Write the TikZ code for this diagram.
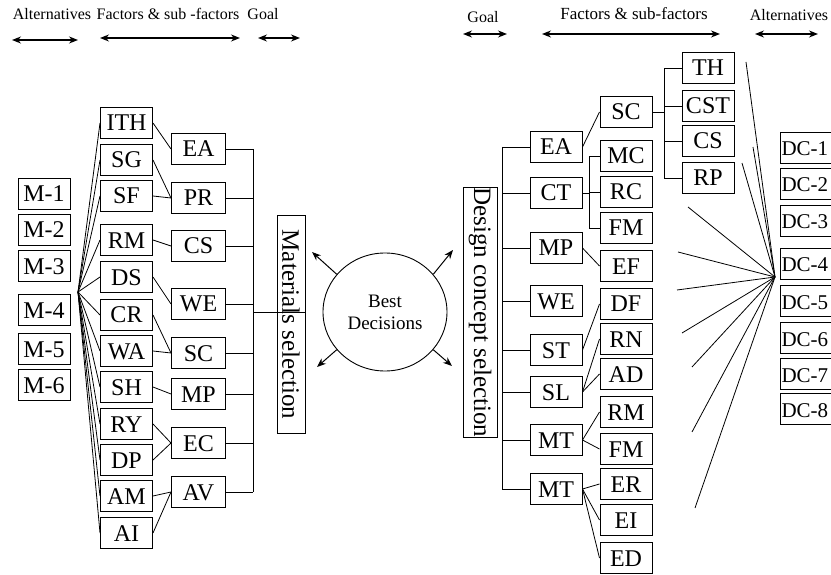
\documentclass[tikz,border=0pt]{standalone}
\usepackage{fontspec}
\setmainfont{Liberation Serif}
\usetikzlibrary{arrows.meta,shapes.geometric}
\tikzset{
  dm box/.style={draw, line width=1pt, minimum width=52pt, minimum height=31pt, inner sep=0pt, text height=16pt, text depth=0pt, font=\fontsize{24}{26}\selectfont},
  dm alt/.style={dm box, text width=70pt, align=left, inner xsep=1pt, anchor=west, font=\fontsize{21}{24}\selectfont},
  dm goal/.style={draw, line width=1pt, rotate=-90, inner sep=0pt, font=\fontsize{25}{27}\selectfont},
  dm link/.style={draw, line width=0.8pt},
  dm span/.style={draw, line width=1.4pt, {Stealth[length=9pt,width=7pt]}-{Stealth[length=9pt,width=7pt]}},
  dm out/.style={draw, line width=1pt, -{Stealth[length=9pt,width=7pt]}},
  dm head/.style={font=\fontsize{16}{18}\selectfont},
}

\begin{document}
\begin{tikzpicture}[x=1pt, y=-1pt]
  \useasboundingbox (0,0) rectangle (831,575);
  \clip (0,0) rectangle (831,575);

  % Headings with their spans
  \node[dm head] (hAltL) at (52,14) {Alternatives};
  \node[dm head] (hFacL) at (168,14) {Factors \& sub -factors};
  \node[dm head] (hGoalL) at (263,14) {Goal};
  \node[dm head] (hGoalR) at (483,17) {Goal};
  \node[dm head, font=\fontsize{17}{19}\selectfont] (hFacR) at (634,14) {Factors \& sub-factors};
  \node[dm head] (hAltR) at (789,15) {Alternatives};
  \foreach \n/\xa/\xb/\y in {1/12/78/40, 2/100/240/38, 3/258/300/38, 4/463/507/34, 5/542/720/34, 6/755/818/34} {
    \coordinate (sa\n) at (\xa,\y);
    \coordinate (sb\n) at (\xb,\y);
    \draw[dm span] (sa\n) -- (sb\n);
  }

  % Left tree: alternatives
  \foreach \name/\y in {M-1/194, M-2/230, M-3/266, M-4/310, M-5/349, M-6/385}
    \node[dm box] (l\name) at (44,\y) {\name};

  % Left tree: sub-factors
  \foreach \name/\y in {ITH/123, SG/160, SF/196, RM/240, DS/277, CR/315, WA/351, SH/387, RY/424, DP/460, AM/496, AI/533}
    \node[dm box] (l\name) at (126.5,\y) {\name};

  % Left tree: factors
  \foreach \name/\y in {EA/149, PR/198, CS/246, WE/304, SC/353, MP/394, EC/443, AV/492}
    \node[dm box, minimum width=54pt] (f\name) at (198.5,\y) {\name};

  \node[dm goal, minimum width=217pt, minimum height=28pt] (matsel) at (291,324.5) {Materials selection};

  % fan from the alternatives
  \coordinate (lfan) at (78,292);
  \foreach \name in {ITH, SG, SF, RM, DS, CR, WA, SH, RY, DP, AM, AI}
    \draw[dm link] (lfan) -- (l\name.west);

  % sub-factors to factors
  \foreach \s/\f in {ITH/EA, SG/PR, SF/PR, RM/CS, DS/WE, CR/SC, WA/SC, SH/MP, RY/EC, DP/EC, AM/AV, AI/AV}
    \draw[dm link] (l\s.east) -- (f\f.west);

  % factors to goal
  \coordinate (lbus) at (253,312);
  \draw[dm link] (fEA.east -| lbus) -- (fAV.east -| lbus);
  \foreach \f in {EA, PR, CS, WE, SC, MP, EC, AV}
    \draw[dm link] (f\f.east) -- (f\f.east -| lbus);
  \draw[dm link] (lbus) -- (lbus -| matsel.north);

  % Centre
  \node[draw, ellipse, line width=0.9pt, minimum width=124pt, minimum height=118pt, align=center, font=\fontsize{19}{22}\selectfont] (best) at (385,312) {Best\\Decisions};
  \coordinate (oUL) at (312,252);
  \coordinate (oLL) at (317,367);
  \coordinate (oUR) at (453,250);
  \coordinate (oLR) at (452,366);
  \draw[dm out] (best.142) -- (oUL);
  \draw[dm out] (best.218) -- (oLL);
  \draw[dm out] (best.38) -- (oUR);
  \draw[dm out] (best.322) -- (oLR);

  % Right tree: goal and factors
  \node[dm goal, minimum width=231pt, minimum height=34pt] (desel) at (480,312.5) {Design concept selection};
  \foreach \name/\lab/\y in {EA/EA/147, CT/CT/193, MP/MP/248, WE/WE/301, ST/ST/350, SL/SL/392, MTa/MT/440, MTb/MT/489}
    \node[dm box] (r\name) at (556,\y) {\lab};
  \coordinate (rbus) at (502,312);
  \draw[dm link] (rEA.west -| rbus) -- (rMTb.west -| rbus);
  \foreach \f in {EA, CT, MP, WE, ST, SL, MTa, MTb}
    \draw[dm link] (r\f.west) -- (r\f.west -| rbus);

  % Right tree: sub-factors
  \foreach \name/\lab/\y in {SC/SC/112, MC/MC/156, RC/RC/192, FMa/FM/228, EF/EF/266, DF/DF/304, RN/RN/339, AD/AD/374, RM/RM/412, FMb/FM/449, ER/ER/484, EI/EI/520, ED/ED/558}
    \node[dm box] (s\name) at (626,\y) {\lab};
  \foreach \name/\y in {TH/68, CST/106, CS/141, RP/178}
    \node[dm box] (t\name) at (708,\y) {\name};

  \draw[dm link] (rEA.east) -- (sSC.west);
  \foreach \s in {MC, RC, FMa}
    \draw[dm link] (rCT.east) -- ([xshift=7pt]rCT.east) |- (s\s.west);
  \foreach \t in {TH, CST, CS, RP}
    \draw[dm link] (sSC.east) -- ([xshift=12pt]sSC.east) |- (t\t.west);
  \foreach \f/\s in {MP/EF, ST/DF, SL/RN, SL/AD, MTa/RM, MTa/FMb, MTb/ER, MTb/EI, MTb/ED}
    \draw[dm link] (r\f.east) -- (s\s.west);

  % Right tree: alternatives
  \foreach \n/\y in {1/148, 2/184, 3/221, 4/264, 5/301, 6/338, 7/374, 8/409}
    \node[dm alt] (dc\n) at (780,\y) {DC-\n};

  % fan to the alternatives
  \coordinate (rfan) at (775,277);
  \foreach \i/\x/\y in {1/746/62, 2/753/147, 3/742/163, 4/688/207, 5/678/252, 6/677/290, 7/682/333, 8/692/367, 9/692/432, 10/695/508} {
    \coordinate (rf\i) at (\x,\y);
    \draw[dm link] (rfan) -- (rf\i);
  }
\end{tikzpicture}
\end{document}
